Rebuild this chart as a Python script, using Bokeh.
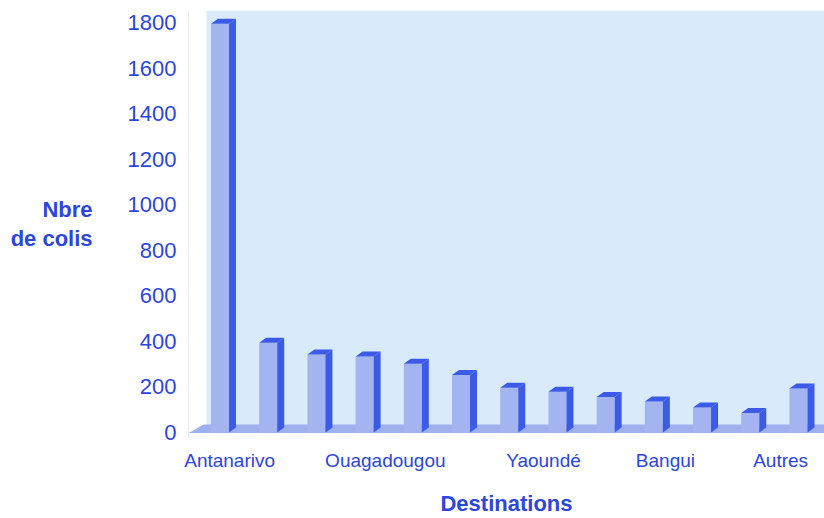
import numpy as np
from bokeh.plotting import figure
from bokeh.models import ColumnDataSource, FixedTicker, BoxAnnotation, Range1d
from bokeh.embed import file_html
from bokeh.resources import INLINE

# ---- data ----
destinations = ["Antanarivo", "", "", "Ouagadougou", "", "", "Yaoundé", "", "", "Bangui", "", "", "Autres"]
colis = [1795, 394, 342, 334, 302, 253, 196, 179, 156, 136, 110, 86, 193]
y_ticks = [0, 200, 400, 600, 800, 1000, 1200, 1400, 1600, 1800]
x_title = "Destinations"
y_title = "Nbre\nde colis"

# ---- styles ----
TEXT = "#2c46dc"
FRONT = "#a3b4f0"
SIDE = "#3b5ae6"
FLOOR = "#9eb0ee"
BG = "#d9ebfa"
FONT = "Liberation Sans"

n = len(colis)
xs = np.arange(1, n + 1)
vals = np.array(colis, dtype=float)
half = 0.187
ddx, ddy = 0.145, 22.0

p = figure(width=824, height=518, output_backend="svg", toolbar_location=None,
           x_range=Range1d(0.3465, 13.54), y_range=Range1d(-21.9, 1852.8),
           min_border_left=188, min_border_right=0, min_border_top=10, min_border_bottom=80)
p.outline_line_color = None
p.background_fill_color = "white"
p.border_fill_color = "white"
p.xgrid.visible = False
p.ygrid.visible = False

# light-blue backdrop
p.add_layout(BoxAnnotation(left=0.72, bottom=0, fill_color=BG, fill_alpha=1.0,
                           line_color=None, level="underlay"))

# floor
fl, fr = 0.35, 14.0
p.patch([fl, fr, fr + 0.31, fl + 0.31], [-2, -2, 35, 35], fill_color=FLOOR, line_color=None)

left = xs - half
right = xs + half
front = ColumnDataSource(dict(left=left, right=right, top=vals))
p.quad(left="left", right="right", bottom=0, top="top", source=front,
       fill_color=FRONT, line_color=None)
side_xs = [[r, r + ddx, r + ddx, r] for r in right]
side_ys = [[0, ddy, v + ddy, v] for v in vals]
p.patches(side_xs, side_ys, fill_color=SIDE, line_color=None)
top_xs = [[l, r, r + ddx, l + ddx] for l, r in zip(left, right)]
top_ys = [[v, v, v + ddy, v + ddy] for v in vals]
p.patches(top_xs, top_ys, fill_color=SIDE, line_color=None)

# x axis: labelled categories
label_pos = {0: 1.2, 3: 4.43, 6: 7.71, 9: 10.24, 12: 12.63}
ticks = [label_pos[i] for i in label_pos]
p.xaxis.ticker = FixedTicker(ticks=ticks)
p.xaxis.major_label_overrides = {label_pos[i]: destinations[i] for i in label_pos}
p.xaxis.axis_line_color = None
p.xaxis.major_tick_line_color = None
p.xaxis.minor_tick_line_color = None
p.xaxis.major_label_text_font = FONT
p.xaxis.major_label_text_font_size = "19px"
p.xaxis.major_label_text_color = TEXT
p.xaxis.major_label_standoff = 6
p.xaxis.axis_label = x_title
p.xaxis.axis_label_text_font = FONT
p.xaxis.axis_label_text_font_style = "bold"
p.xaxis.axis_label_text_font_size = "22px"
p.xaxis.axis_label_text_color = TEXT
p.xaxis.axis_label_standoff = 17

p.yaxis.ticker = FixedTicker(ticks=y_ticks)
p.yaxis.axis_line_color = "#e8edf3"
p.yaxis.major_tick_line_color = None
p.yaxis.minor_tick_line_color = None
p.yaxis.major_label_text_font = FONT
p.yaxis.major_label_text_font_size = "22px"
p.yaxis.major_label_text_color = TEXT
p.yaxis.major_label_standoff = 6
p.yaxis.axis_label = y_title
p.yaxis.axis_label_orientation = "horizontal"
p.yaxis.axis_label_text_font = FONT
p.yaxis.axis_label_text_font_style = "bold"
p.yaxis.axis_label_text_font_size = "22px"
p.yaxis.axis_label_text_color = TEXT
p.yaxis.axis_label_text_line_height = 1.15
p.yaxis.axis_label_standoff = 32

open("out.html", "w").write(file_html(p, INLINE))
